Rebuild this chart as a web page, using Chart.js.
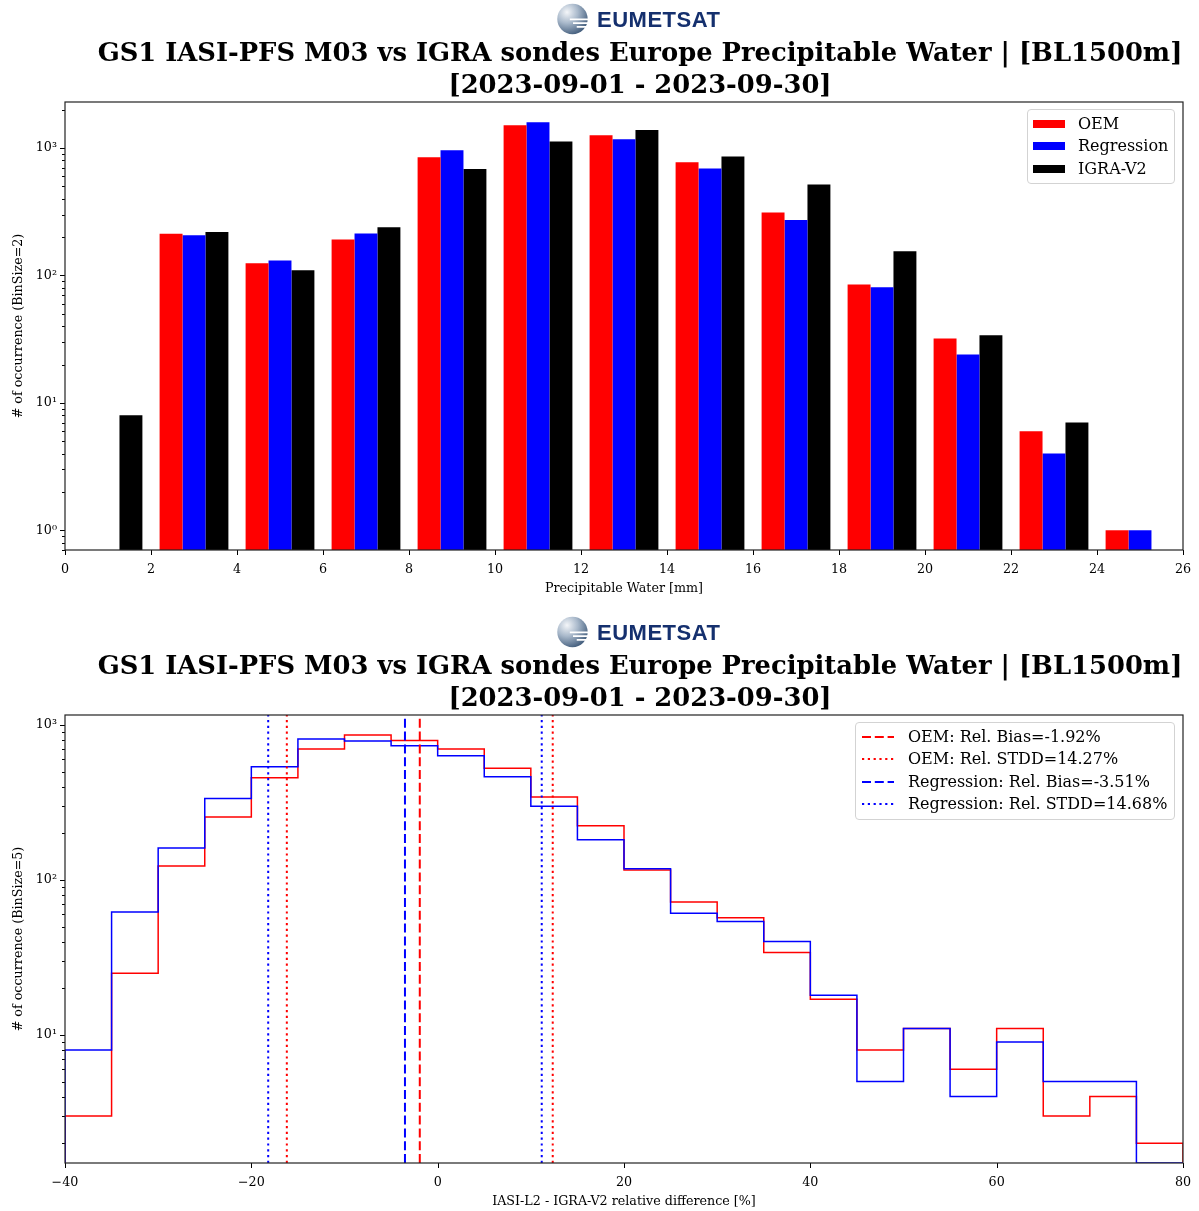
<!DOCTYPE html>
<html>
<head>
<meta charset="utf-8">
<title>GS1 IASI-PFS M03 vs IGRA sondes Europe Precipitable Water</title>
<script src="https://cdn.jsdelivr.net/npm/chart.js"></script>
<style>
  html, body { margin: 0; padding: 0; background: #fff; overflow: hidden; }
  .fig { position: absolute; left: 0; width: 1199px; font-family: 'DejaVu Serif', serif; color: #000; }
  .fig canvas { position: absolute; left: 0; top: 0; }
  .logo { position: absolute; left: 556px; top: 3px; width: 170px; height: 32px; }
  .logo svg { position: absolute; left: 0; top: 0; }
  .logo span { position: absolute; left: 41px; top: 4px; font: bold 22px 'Liberation Sans', Arial, sans-serif; color: #15306e; letter-spacing: 0.5px; }
  .ttl { position: absolute; left: 40px; width: 1200px; top: 36px; text-align: center; font-weight: bold; font-size: 25.8px; line-height: 32px; white-space: nowrap; }
  .legend { position: absolute; box-sizing: border-box; background: rgba(255,255,255,0.8); border: 1px solid #d3d3d3; border-radius: 4px; font-size: 16px; padding-top: 3px; }
  .legend .row { position: relative; height: 22.3px; line-height: 22.3px; white-space: nowrap; }
  .legend .key { position: absolute; top: 50%; transform: translateY(-50%); }
  .legend .txt { position: absolute; top: 0; }
</style>
</head>
<body>
<div class="fig" id="figPw" style="top:0;height:613px"><canvas id="pwChart" width="1199" height="613"></canvas></div>
<div class="fig" id="figRel" style="top:613px;height:598px"><canvas id="relChart" width="1199" height="598"></canvas></div>
<script>
// precipitable water distribution, 2 mm bins (bar centres)
const pwBinCentres = [1, 3, 5, 7, 9, 11, 13, 15, 17, 19, 21, 23, 25];
const pwOem  = [0, 213, 125, 192, 847, 1510, 1260, 774, 312, 85, 32, 6, 1];
const pwReg  = [0, 207, 131, 214, 961, 1595, 1172, 690, 273, 81, 24, 4, 1];
const pwIgra = [8, 219, 110, 239, 686, 1125, 1387, 857, 517, 155, 34, 7, 0];
const PW_Y_MIN = 0.7, PW_Y_MAX = 2300;

// relative difference IASI-L2 vs IGRA-V2, 5 % bins
const relEdges = [-40, -35, -30, -25, -20, -15, -10, -5, 0, 5, 10, 15, 20, 25, 30, 35, 40, 45, 50, 55, 60, 65, 70, 75, 80];
const relOem = [3, 25, 123, 255, 457, 700, 861, 793, 700, 525, 343, 224, 116, 72, 57, 34, 17, 8, 11, 6, 11, 3, 4, 2];
const relReg = [8, 62, 161, 335, 537, 813, 788, 735, 634, 464, 299, 182, 118, 61, 54, 40, 18, 5, 11, 4, 9, 5, 5, 0];
const REL_Y_MIN = 1.49, REL_Y_MAX = 1160;

// statistics shown in the legend (%)
const oemBias = -1.92, oemStdd = 14.27;
const regBias = -3.51, regStdd = 14.68;

const titleLines = ['GS1 IASI-PFS M03 vs IGRA sondes Europe Precipitable Water | [BL1500m]', '[2023-09-01 - 2023-09-30]'];

const RED = '#ff0000', BLUE = '#0000ff', BLACK = '#000000';
const FONT = { family: "'DejaVu Serif', serif", size: 12.7 };

Chart.defaults.font.family = FONT.family;
Chart.defaults.font.size = FONT.size;
Chart.defaults.color = '#000';

// logo + two-line title above each figure
function addHeader(figId, gid) {
  const fig = document.getElementById(figId);
  const logo = document.createElement('div');
  logo.className = 'logo';
  logo.innerHTML =
    '<svg width="34" height="34" viewBox="0 0 32 32">' +
    '<defs><radialGradient id="' + gid + '" cx="0.32" cy="0.28" r="0.8">' +
    '<stop offset="0" stop-color="#f4f6f9"/><stop offset="0.45" stop-color="#a9b9cb"/><stop offset="1" stop-color="#3d5878"/>' +
    '</radialGradient></defs>' +
    '<circle cx="15.5" cy="15" r="14.3" fill="url(#' + gid + ')"/>' +
    '<path d="M13 15.5 H32 M16 19 H32 M19.5 22.5 H31" stroke="#fff" stroke-width="1.7"/>' +
    '</svg><span>EUMETSAT</span>';
  fig.appendChild(logo);
  const t = document.createElement('div');
  t.className = 'ttl';
  t.innerHTML = titleLines.join('<br>');
  fig.appendChild(t);
}

function addLegend(figId, box, entries) {
  const fig = document.getElementById(figId);
  const lg = document.createElement('div');
  lg.className = 'legend';
  Object.assign(lg.style, { left: box.left + 'px', top: box.top + 'px', width: box.width + 'px', height: box.height + 'px' });
  entries.forEach(e => {
    const row = document.createElement('div');
    row.className = 'row';
    row.innerHTML = '<span class="key" style="left:' + box.keyLeft + 'px">' + e.key + '</span>' +
      '<span class="txt" style="left:' + box.textLeft + 'px">' + e.label + '</span>';
    lg.appendChild(row);
  });
  fig.appendChild(lg);
}

const patchKey = c => '<svg width="32" height="8" style="display:block"><rect width="32" height="8" fill="' + c + '"/></svg>';
const lineKey = (c, dash) => '<svg width="32" height="4" style="display:block"><line x1="0" y1="2" x2="32" y2="2" stroke="' + c +
  '" stroke-width="2" stroke-dasharray="' + dash.join(' ') + '"/></svg>';

// log axis: labelled decades plus unlabelled minor ticks
function logTicks(min, max) {
  const out = [];
  for (let e = -1; e <= 4; e++) {
    for (let m = 1; m <= 9; m++) {
      const v = m * Math.pow(10, e);
      if (v >= min * 0.999 && v <= max) out.push({ value: v, major: m === 1 });
    }
  }
  return out;
}
const SUP = { '0': '\u2070', '1': '\u00b9', '2': '\u00b2', '3': '\u00b3', '4': '\u2074', '-': '\u207b' };
const pow10Label = v => '10' + String(Math.round(Math.log10(v))).split('').map(c => SUP[c]).join('');
const minusLabel = v => (v < 0 ? '\u2212' + Math.abs(v) : String(v));

// frame + outward tick marks (short ones for minor log ticks)
const axisFrame = {
  id: 'axisFrame',
  afterDraw(chart) {
    const { ctx, chartArea: a, scales } = chart;
    ctx.save();
    ctx.strokeStyle = '#000';
    ctx.lineWidth = 1;
    scales.x.ticks.forEach(t => {
      const px = Math.round(scales.x.getPixelForValue(t.value)) + 0.5;
      ctx.beginPath(); ctx.moveTo(px, a.bottom); ctx.lineTo(px, a.bottom + 5); ctx.stroke();
    });
    scales.y.ticks.forEach(t => {
      const py = Math.round(scales.y.getPixelForValue(t.value)) + 0.5;
      const len = t.major ? 5 : 3;
      ctx.beginPath(); ctx.moveTo(a.left, py); ctx.lineTo(a.left - len, py); ctx.stroke();
    });
    ctx.strokeStyle = '#222';
    ctx.lineWidth = 1.2;
    ctx.strokeRect(a.left, a.top, a.right - a.left, a.bottom - a.top);
    ctx.restore();
  }
};

function xAxis(min, max, step, title, height, titlePad) {
  return {
    type: 'linear', min, max, offset: false,
    // fixed axis height; end labels may overhang the plot edges
    afterFit: s => { s.height = height; s.paddingLeft = 0; s.paddingRight = 0; },
    ticks: { stepSize: step, padding: 12.5, maxRotation: 0, autoSkip: false, callback: minusLabel },
    grid: { drawOnChartArea: false, drawTicks: false, offset: false },
    border: { display: false },
    title: { display: true, text: title, padding: { top: 0, bottom: titlePad } }
  };
}

function yAxis(min, max, title) {
  return {
    type: 'logarithmic', min, max,
    afterBuildTicks: s => { s.ticks = logTicks(min, max); },
    afterFit: s => { s.width = 65; },
    ticks: { autoSkip: false, padding: 8, callback: (v, i, t) => (t[i].major ? pow10Label(v) : '') },
    grid: { drawOnChartArea: false, drawTicks: false },
    border: { display: false },
    title: { display: true, text: title, padding: { top: 11, bottom: 0 } }
  };
}

const common = {
  responsive: false,
  animation: false,
  devicePixelRatio: 1,
  plugins: { legend: { display: false }, tooltip: { enabled: false } }
};

// ---------- top: precipitable water histogram ----------
addHeader('figPw', 'globeA');
const toXY = (xs, ys) => xs.map((x, i) => ({ x, y: ys[i] }));
new Chart(document.getElementById('pwChart'), {
  type: 'bar',
  data: {
    datasets: [
      { label: 'OEM', data: toXY(pwBinCentres, pwOem), backgroundColor: RED },
      { label: 'Regression', data: toXY(pwBinCentres, pwReg), backgroundColor: BLUE },
      { label: 'IGRA-V2', data: toXY(pwBinCentres, pwIgra), backgroundColor: BLACK }
    ]
  },
  options: Object.assign({}, common, {
    layout: { padding: { top: 102, right: 16, bottom: 0, left: 0 } },
    datasets: { bar: { categoryPercentage: 0.8, barPercentage: 1.0, borderWidth: 0 } },
    scales: {
      x: xAxis(0, 26, 2, 'Precipitable Water [mm]', 63, 16.5),
      y: yAxis(PW_Y_MIN, PW_Y_MAX, '# of occurrence (BinSize=2)')
    }
  }),
  plugins: [axisFrame]
});
addLegend('figPw', { left: 1027, top: 109, width: 148, height: 75, keyLeft: 5, textLeft: 50 }, [
  { key: patchKey(RED), label: 'OEM' },
  { key: patchKey(BLUE), label: 'Regression' },
  { key: patchKey(BLACK), label: 'IGRA-V2' }
]);

// ---------- bottom: relative difference step histogram ----------
addHeader('figRel', 'globeB');
const atFloor = v => (v > 0 ? v : REL_Y_MIN);
function stepPoints(edges, counts) {
  const last = edges[edges.length - 1];
  const pts = [{ x: edges[0], y: REL_Y_MIN }];
  counts.forEach((c, i) => pts.push({ x: edges[i], y: atFloor(c) }));
  pts.push({ x: last, y: atFloor(counts[counts.length - 1]) });
  pts.push({ x: last, y: REL_Y_MIN });
  return pts;
}
const DASHED = [9, 3.8], DOTTED = [2.2, 3.6];
function vLine(x, color, dash) {
  return {
    data: [{ x, y: REL_Y_MIN }, { x, y: REL_Y_MAX }],
    borderColor: color, borderWidth: 2, borderDash: dash, pointRadius: 0, order: 0
  };
}
new Chart(document.getElementById('relChart'), {
  type: 'line',
  data: {
    datasets: [
      { label: 'OEM', data: stepPoints(relEdges, relOem), borderColor: RED, borderWidth: 1.5, stepped: true, pointRadius: 0, order: 2 },
      { label: 'Regression', data: stepPoints(relEdges, relReg), borderColor: BLUE, borderWidth: 1.5, stepped: true, pointRadius: 0, order: 1 },
      vLine(oemBias, RED, DASHED),
      vLine(oemBias - oemStdd, RED, DOTTED),
      vLine(oemBias + oemStdd, RED, DOTTED),
      vLine(regBias, BLUE, DASHED),
      vLine(regBias - regStdd, BLUE, DOTTED),
      vLine(regBias + regStdd, BLUE, DOTTED)
    ]
  },
  options: Object.assign({}, common, {
    layout: { padding: { top: 102, right: 16, bottom: 0, left: 0 } },
    scales: {
      x: xAxis(-40, 80, 20, 'IASI-L2 - IGRA-V2 relative difference [%]', 48, 1.5),
      y: yAxis(REL_Y_MIN, REL_Y_MAX, '# of occurrence (BinSize=5)')
    }
  }),
  plugins: [axisFrame]
});
addLegend('figRel', { left: 855, top: 109, width: 320, height: 98, keyLeft: 6, textLeft: 52 }, [
  { key: lineKey(RED, DASHED), label: 'OEM: Rel. Bias=' + oemBias + '%' },
  { key: lineKey(RED, DOTTED), label: 'OEM: Rel. STDD=' + oemStdd + '%' },
  { key: lineKey(BLUE, DASHED), label: 'Regression: Rel. Bias=' + regBias + '%' },
  { key: lineKey(BLUE, DOTTED), label: 'Regression: Rel. STDD=' + regStdd + '%' }
]);
</script>
</body>
</html>
